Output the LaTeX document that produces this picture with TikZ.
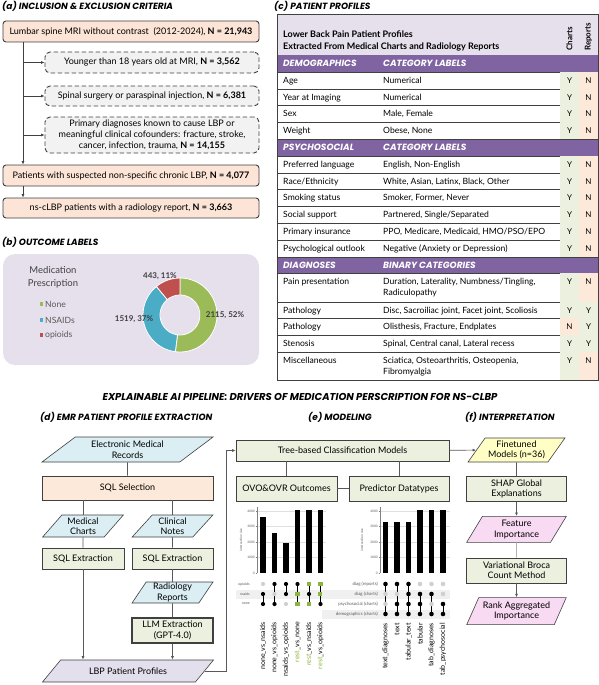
\documentclass[tikz,border=0pt]{standalone}
\usepackage{fontspec}
\setmainfont{Lato}
\newfontfamily\headfont{Poppins}
\usetikzlibrary{shapes.geometric, arrows.meta, positioning}

\definecolor{critfill}{HTML}{FCE4D6}
\definecolor{exclfill}{HTML}{F2F2F2}
\definecolor{lavender}{HTML}{E6E0EC}
\definecolor{purplehead}{HTML}{8064A2}
\definecolor{cellgreen}{HTML}{EBF1DE}
\definecolor{cellpeach}{HTML}{FDE9D9}
\definecolor{procfill}{HTML}{EBF1DE}
\definecolor{selfill}{HTML}{FDE9D9}
\definecolor{datafill}{HTML}{DAEEF3}
\definecolor{lbpfill}{HTML}{E4DFEC}
\definecolor{modelfill}{HTML}{FFFFC5}
\definecolor{pinkfill}{HTML}{F9DAF3}
\definecolor{edge}{HTML}{404040}
\definecolor{wedgegreen}{HTML}{9BBB59}
\definecolor{wedgeblue}{HTML}{4BACC6}
\definecolor{wedgered}{HTML}{C0504D}
\definecolor{restgreen}{HTML}{8DB43E}
\definecolor{labelgray}{HTML}{595959}
\definecolor{dotgray}{HTML}{D0D0D0}

\begin{document}
\begin{tikzpicture}[
    x=1pt, y=-1pt,
    font=\fontsize{9}{11}\selectfont,
    heading/.style={anchor=west, inner sep=0, font=\headfont\bfseries\itshape\fontsize{9}{11}\selectfont},
    crit/.style={rectangle, draw=edge, line width=0.9pt, fill=critfill, rounded corners=3pt, align=center, inner sep=1pt},
    excl/.style={crit, fill=exclfill, rounded corners=5pt, dash pattern=on 4.5pt off 2.5pt},
    proc/.style={rectangle, draw=edge, line width=0.7pt, fill=procfill, align=center, inner sep=1pt, font=\fontsize{9}{10.5}\selectfont},
    para/.style={trapezium, trapezium stretches=true, draw=edge, line width=0.6pt, align=center, inner sep=1pt, font=\fontsize{9}{10.5}\selectfont},
    slant/.style={trapezium left angle=52, trapezium right angle=128},
    steep/.style={trapezium left angle=62, trapezium right angle=118},
    slantwide/.style={trapezium left angle=39, trapezium right angle=141},
    link/.style={draw=labelgray, line width=0.7pt},
    arr/.style={link, -{Latex[length=3.5pt, width=3pt]}},
    sechead/.style={anchor=west, inner sep=0, text=white, font=\headfont\bfseries\itshape\fontsize{9}{10}\selectfont},
    rowtext/.style={anchor=base west, inner sep=0, font=\fontsize{8.6}{10.5}\selectfont},
    yn/.style={anchor=base, inner sep=0, font=\fontsize{8}{9}\selectfont},
    cellY/.style={fill=cellgreen},
    cellN/.style={fill=cellpeach},
    pielab/.style={inner sep=0, text=edge, font=\bfseries\fontsize{8}{9}\selectfont},
    ticklab/.style={anchor=east, inner sep=0, text=labelgray, font=\fontsize{3.2}{4}\selectfont},
    setlab/.style={anchor=east, inner sep=0, text=labelgray, font=\fontsize{3.6}{4}\selectfont},
    combo/.style={rotate=90, anchor=east, inner sep=0, font=\fontsize{7}{8}\selectfont}
]
\useasboundingbox (0,0) rectangle (599,685);

% (a) inclusion and exclusion
\node[heading] (heada) at (2,6) {(a) INCLUSION \& EXCLUSION CRITERIA};
\node[crit, minimum width=256, minimum height=21] (mri) at (131,31.5) {Lumbar spine MRI without contrast\ \ (2012-2024), \textbf{N = 21,943}};
\node[excl, minimum width=214, minimum height=21] (young) at (152,62.5) {Younger than 18 years old at MRI, \textbf{N = 3,562}};
\node[excl, minimum width=214, minimum height=20] (surg) at (152,96) {Spinal surgery or paraspinal injection, \textbf{N = 6,381}};
\node[excl, minimum width=214, minimum height=36] (diag) at (152,135) {Primary diagnoses known to cause LBP or\\meaningful clinical cofounders: fracture, stroke,\\cancer, infection, trauma, \textbf{N = 14,155}};
\node[crit, minimum width=256, minimum height=21] (chronic) at (131,175.5) {Patients with suspected non-specific chronic LBP, \textbf{N = 4,077}};
\node[crit, minimum width=256, minimum height=20] (radio) at (131,208) {ns-cLBP patients with a radiology report, \textbf{N = 3,663}};
\coordinate (trunk) at (23,0);
\draw[arr, draw=edge] (mri.south -| trunk) -- (chronic.north -| trunk);
\foreach \ex in {young, surg, diag}
    \draw[arr, draw=edge] (\ex.west -| trunk) -- (\ex.west);
\draw[arr, draw=edge] (chronic.south -| trunk) -- (radio.north -| trunk);

% (b) outcome labels
\node[heading] (headb) at (2,242) {(b) OUTCOME LABELS};
\fill[lavender, rounded corners=12pt] (3,254) rectangle (259,365);
\node[align=center, text=edge, font=\fontsize{9.5}{13}\selectfont] (medpres) at (53,277) {Medication\\Prescription};
\foreach \col/\nm/\yy [count=\k] in {wedgegreen/None/304, wedgeblue/NSAIDs/320, wedgered/opioids/335} {
    \fill[\col] (39.5,\yy-1.8) rectangle +(3.6,3.6);
    \node[anchor=west, inner sep=0, text=labelgray, font=\fontsize{8.6}{10}\selectfont] (leg\k) at (45,\yy) {\nm};
}
\coordinate (pie) at (180,315);
\fill[wedgegreen, draw=white, line width=0.8pt] ([shift={(-90:37)}]pie) arc[start angle=-90, end angle=97.2, radius=37] -- ([shift={(97.2:20)}]pie) arc[start angle=97.2, end angle=-90, radius=20] -- cycle;
\fill[wedgeblue, draw=white, line width=0.8pt] ([shift={(97.2:37)}]pie) arc[start angle=97.2, end angle=230.4, radius=37] -- ([shift={(230.4:20)}]pie) arc[start angle=230.4, end angle=97.2, radius=20] -- cycle;
\fill[wedgered, draw=white, line width=0.8pt] ([shift={(230.4:37)}]pie) arc[start angle=230.4, end angle=270, radius=37] -- ([shift={(270:20)}]pie) arc[start angle=270, end angle=230.4, radius=20] -- cycle;
\node[pielab] (lblred) at (160,276) {443, 11\%};
\node[pielab] (lblblue) at (134,319) {1519, 37\%};
\node[pielab] (lblgreen) at (225,315) {2115, 52\%};

% (c) patient profiles table
\node[heading] (headc) at (274,6) {(c) PATIENT PROFILES};
\fill[lavender] (277,14) rectangle (598,55);
\node[anchor=west, inner sep=0, align=left, font=\bfseries\fontsize{9}{12}\selectfont] (prohead) at (283,41) {Lower Back Pain Patient Profiles\\Extracted From Medical Charts and Radiology Reports};
\node[rotate=90, anchor=west, inner sep=0, font=\bfseries\fontsize{8}{9}\selectfont] (chartshead) at (569.5,51) {Charts};
\node[rotate=90, anchor=west, inner sep=0, font=\bfseries\fontsize{8}{9}\selectfont] (reportshead) at (588.5,51) {Reports};
\foreach \ya/\yb/\sec/\kind in {55/72/DEMOGRAPHICS/CATEGORY LABELS, 139/156/PSYCHOSOCIAL/CATEGORY LABELS, 257/273/DIAGNOSES/BINARY CATEGORIES} {
    \fill[purplehead] (277,\ya) rectangle (598,\yb);
    \node[sechead] (sec-\sec) at (283,{(\ya+\yb)/2}) {\sec};
    \node[sechead] (kind-\sec) at (383,{(\ya+\yb)/2}) {\kind};
    \draw[edge, line width=0.6pt] (277,\yb) -- (598,\yb);
}
\foreach \ya/\yb/\lab/\cat/\ch/\re [count=\i] in {
    72/89/Age/Numerical/Y/N,
    89/105/{Year at Imaging}/Numerical/Y/N,
    105/122/Sex/{Male, Female}/Y/N,
    122/139/Weight/{Obese, None}/Y/N,
    156/173/{Preferred language}/{English, Non-English}/Y/N,
    173/189/{Race/Ethnicity}/{White, Asian, Latinx, Black, Other}/Y/N,
    189/206/{Smoking status}/{Smoker, Former, Never}/Y/N,
    206/223/{Social support}/{Partnered, Single/Separated}/Y/N,
    223/240/{Primary insurance}/{PPO, Medicare, Medicaid, HMO/PSO/EPO}/Y/N,
    240/257/{Psychological outlook}/{Negative (Anxiety or Depression)}/Y/N,
    273/302/{Pain presentation}/{Duration, Laterality, Numbness/Tingling,}/Y/N,
    302/318/Pathology/{Disc, Sacroiliac joint, Facet joint, Scoliosis}/Y/Y,
    318/335/Pathology/{Olisthesis, Fracture, Endplates}/N/Y,
    335/352/Stenosis/{Spinal, Central canal, Lateral recess}/Y/Y,
    352/380/Miscellaneous/{Sciatica, Osteoarthritis, Osteopenia,}/Y/N} {
    \fill[cell\ch] (560,\ya) rectangle (579,\yb);
    \fill[cell\re] (579,\ya) rectangle (598,\yb);
    \node[rowtext] (lab\i) at (283,\ya+11.5) {\lab};
    \node[rowtext] (cat\i) at (383,\ya+11.5) {\cat};
    \node[yn] (ch\i) at (569.5,\ya+11.5) {\ch};
    \node[yn] (re\i) at (588.5,\ya+11.5) {\re};
    \draw[edge, line width=0.6pt] (277,\yb) -- (598,\yb);
}
\node[rowtext] (cat11b) at (383,295.5) {Radiculopathy};
\node[rowtext] (cat15b) at (383,374) {Fibromyalgia};
\draw[edge, line width=0.9pt] (277,14) rectangle (598,380);

% pipeline title
\node[heading, anchor=center, font=\headfont\bfseries\itshape\fontsize{10}{12}\selectfont] (pipehead) at (300,397) {EXPLAINABLE AI PIPELINE: DRIVERS OF MEDICATION PERSCRIPTION FOR NS-CLBP};

% (d) EMR patient profile extraction
\node[heading] (headd) at (40,417) {(d) EMR PATIENT PROFILE EXTRACTION};
\node[para, slantwide, fill=datafill, minimum width=171, minimum height=25] (emr) at (127.5,449.5) {Electronic Medical\\Records};
\node[proc, fill=selfill, minimum width=171, minimum height=24] (sqlsel) at (127.5,488) {SQL Selection};
\node[para, slant, fill=datafill, minimum width=81, minimum height=22] (charts) at (83,526) {Medical\\Charts};
\node[para, slant, fill=datafill, minimum width=81, minimum height=22] (notes) at (172.5,526) {Clinical\\Notes};
\node[proc, minimum width=82, minimum height=21] (sqlcharts) at (83,558.5) {SQL Extraction};
\node[proc, minimum width=81, minimum height=21] (sqlnotes) at (172.5,558.5) {SQL Extraction};
\node[para, steep, fill=datafill, minimum width=81, minimum height=21] (radrep) at (172.5,592.5) {Radiology\\Reports};
\node[proc, line width=1.1pt, minimum width=81, minimum height=25] (llm) at (172.5,630.5) {LLM Extraction\\(GPT-4.0)};
\node[para, slantwide, fill=lbpfill, minimum width=171, minimum height=22] (lbp) at (128,671) {LBP Patient Profiles};
\draw[link] (emr) -- (sqlsel);
\draw[link] (sqlsel.south -| charts.north) -- (charts.north);
\draw[link] (sqlsel.south -| notes.north) -- (notes.north);
\draw[link] (charts) -- (sqlcharts);
\draw[link] (notes) -- (sqlnotes);
\draw[link] (sqlnotes) -- (radrep);
\draw[link] (radrep) -- (llm);
\draw[arr] (sqlcharts.south) -- (sqlcharts.south |- lbp.north);
\draw[arr] (llm.south) -- (llm.south |- lbp.north);

% (e) modeling
\node[heading] (heade) at (308,417) {(e) MODELING};
\node[proc, minimum width=213, minimum height=21] (tree) at (342.5,450.5) {Tree-based Classification Models};
\node[proc, minimum width=101, minimum height=25] (ovo) at (286.5,488.5) {OVO\&OVR Outcomes};
\node[proc, minimum width=100, minimum height=25] (pred) at (399,488.5) {Predictor Datatypes};
\draw[link] (tree.south -| ovo.north) -- (ovo.north);
\draw[link] (tree.south -| pred.north) -- (pred.north);
\draw[link] (ovo) -- (pred);
\coordinate (riser) at (226,0);
\draw[arr] (lbp.east) -- (lbp.east -| riser) |- (tree.west);

% outcome upset plot
\foreach \t in {1000,2000,3000,4000}
    \draw[gray!25, line width=0.3pt] (257,573-\t*0.0155) -- (326,573-\t*0.0155);
\foreach \cx/\v in {263/3634, 274.5/2558, 286/1962, 297.5/4077, 309/4077, 320.5/4077}
    \fill (\cx-2.8,573) rectangle (\cx+2.8,573-\v*0.0155);
\draw[gray, line width=0.4pt] (257,507) -- (257,573);
\foreach \t in {0,1000,2000,3000,4000} {
    \draw[gray, line width=0.3pt] (255.8,573-\t*0.0155) -- (257,573-\t*0.0155);
    \node[ticklab] (lt\t) at (255,573-\t*0.0155) {\t};
}
\node[ticklab, rotate=90, anchor=center] (lytitle) at (241,540) {intersection size};
\fill[gray!12] (236,589.5) rectangle (326,598.5);
\foreach \nm/\yy in {opioids/584, nsaids/594, none/604}
    \node[setlab] (ls-\nm) at (250,\yy) {\nm};
\foreach \cx/\ya/\yb in {263/594/604, 274.5/584/604, 286/584/594, 297.5/584/604, 309/584/604, 320.5/584/604}
    \draw[line width=1pt] (\cx,\ya) -- (\cx,\yb);
\foreach \p in {(263,594),(263,604),(274.5,584),(274.5,604),(286,584),(286,594),(297.5,584),(309,594),(320.5,604)}
    \fill \p circle (2.1);
\foreach \p in {(263,584),(274.5,594),(286,604)}
    \fill[dotgray] \p circle (2.1);
\foreach \p in {(297.5,594),(297.5,604),(309,584),(309,604),(320.5,584),(320.5,594)}
    \fill[restgreen] \p ++(-2.4,-2.4) rectangle ++(4.8,4.8);
\foreach \cx/\nm [count=\k] in {263/{none\_vs\_nsaids}, 274.5/{none\_vs\_opioids}, 286/{nsaids\_vs\_opioids}, 297.5/{\textcolor{restgreen}{rest}\_vs\_none}, 309/{\textcolor{restgreen}{rest}\_vs\_nsaids}, 320.5/{\textcolor{restgreen}{rest}\_vs\_opioids}}
    \node[combo] (lc\k) at (\cx,622) {\nm};

% datatype upset plot
\foreach \t in {1000,2000,3000,4000}
    \draw[gray!25, line width=0.3pt] (380,573-\t*0.0155) -- (450,573-\t*0.0155);
\foreach \cx/\v in {385.5/3300, 397/3300, 408.5/3300, 420/4077, 431.5/4077, 443/4077}
    \fill (\cx-2.8,573) rectangle (\cx+2.8,573-\v*0.0155);
\draw[gray, line width=0.4pt] (380,507) -- (380,573);
\foreach \t in {0,1000,2000,3000,4000} {
    \draw[gray, line width=0.3pt] (378.8,573-\t*0.0155) -- (380,573-\t*0.0155);
    \node[ticklab] (rt\t) at (378,573-\t*0.0155) {\t};
}
\node[ticklab, rotate=90, anchor=center] (rytitle) at (362,540) {intersection size};
\fill[gray!12] (322,589.5) rectangle (450,598.5);
\fill[gray!12] (322,609.5) rectangle (450,618.5);
\foreach \nm/\yy [count=\k] in {diag (reports)/584, diag (charts)/594, psychosocial (charts)/604, demographics (charts)/614}
    \node[setlab, font=\fontsize{4.4}{5}\selectfont] (rs\k) at (378,\yy) {\nm};
\foreach \cx/\ya/\yb in {385.5/584/614, 397/584/614, 408.5/584/614, 420/594/614, 431.5/594/614, 443/604/614}
    \draw[line width=1pt] (\cx,\ya) -- (\cx,\yb);
\foreach \p in {(385.5,584),(385.5,614),(397,584),(397,604),(397,614),(408.5,584),(408.5,594),(408.5,604),(408.5,614),(420,594),(420,604),(420,614),(431.5,594),(431.5,614),(443,604),(443,614)}
    \fill \p circle (2.3);
\foreach \p in {(385.5,594),(385.5,604),(397,594),(420,584),(431.5,584),(431.5,604),(443,584),(443,594)}
    \fill[dotgray] \p circle (2.3);
\foreach \cx/\nm [count=\k] in {385.5/{text\_diagnoses}, 397/text, 408.5/{tabular\_text}, 420/tabular, 431.5/{tab\_diagnoses}, 443/{tab\_psychosocial}}
    \node[combo] (rc\k) at (\cx,623) {\nm};

% (f) interpretation
\node[heading] (headf) at (465,417) {(f) INTERPRETATION};
\node[para, slant, fill=modelfill, minimum width=97, minimum height=24] (fine) at (516.5,450) {Finetuned\\Models (n=36)};
\node[proc, minimum width=100, minimum height=25, below=14pt of fine] (shap) {SHAP Global\\Explanations};
\node[para, steep, fill=pinkfill, minimum width=100, minimum height=26, below=14pt of shap] (feat) {Feature\\Importance};
\node[proc, minimum width=100, minimum height=25, below=15pt of feat] (vbc) {Variational Broca\\Count Method};
\node[para, steep, fill=pinkfill, minimum width=100, minimum height=27, below=14pt of vbc] (rank) {Rank Aggregated\\Importance};
\draw[arr] (tree) -- (fine);
\draw[link] (fine) -- (shap);
\draw[arr] (shap) -- (feat);
\draw[link, draw=gray!60] (feat) -- (vbc);
\draw[arr] (vbc) -- (rank);

\end{tikzpicture}
\end{document}
